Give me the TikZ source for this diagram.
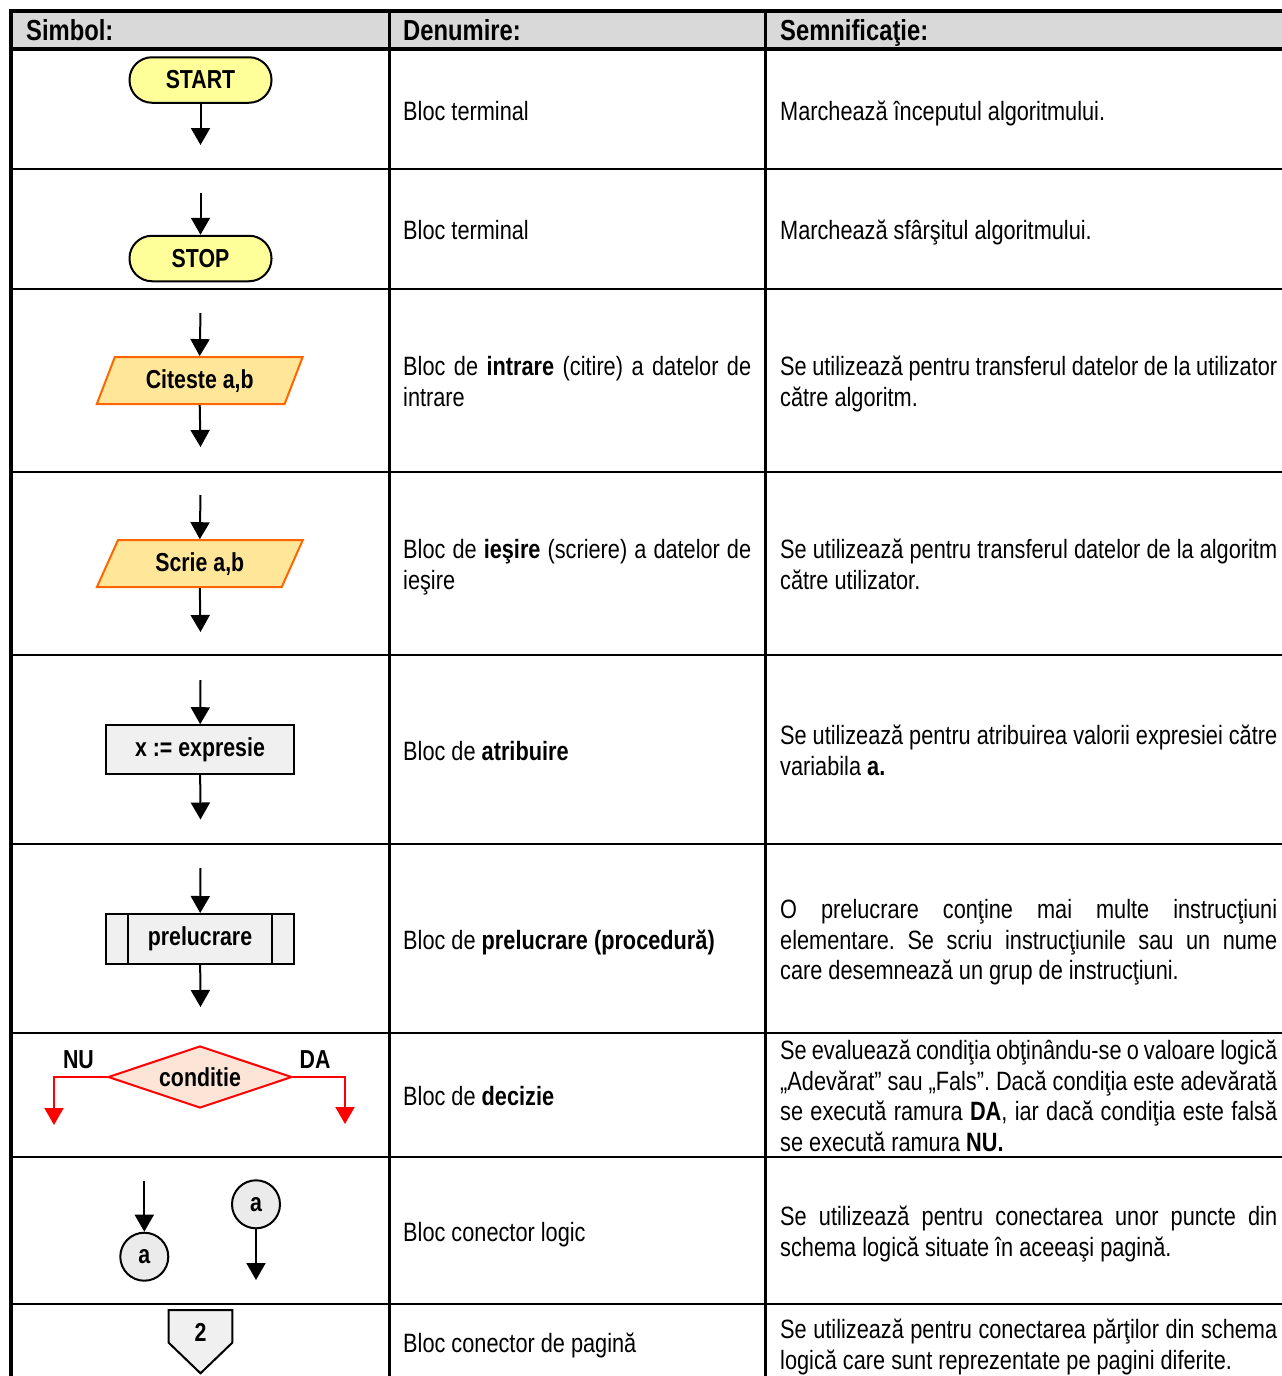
\documentclass[tikz,border=0pt]{standalone}
\usepackage{fontspec}
\setmainfont{Liberation Sans}[FakeStretch=0.82]
\usetikzlibrary{arrows.meta,shapes.geometric}
\frenchspacing

\definecolor{hdrgray}{RGB}{217,217,217}
\definecolor{termyellow}{RGB}{255,255,153}
\definecolor{iofill}{RGB}{255,230,153}
\definecolor{ioborder}{RGB}{255,102,0}
\definecolor{boxgray}{RGB}{240,240,240}
\definecolor{circgray}{RGB}{235,235,235}
\definecolor{decfill}{RGB}{252,228,214}
\definecolor{decred}{RGB}{255,0,0}

% a justified line of a given width
\newcommand\justline[2]{\makebox[#1][s]{#2}}

\begin{document}
\begin{tikzpicture}[x=1pt,y=-1pt,
  txt/.style={inner sep=0pt, anchor=base west, font=\fontsize{26.5}{30.5}\selectfont},
  hdr/.style={inner sep=0pt, anchor=base west, font=\fontsize{29}{32}\selectfont\bfseries},
  lbl/.style={inner sep=0pt, font=\fontsize{26}{28}\selectfont\bfseries},
  flow/.style={line width=2pt, -{Triangle[width=19pt,length=17pt]}},
  shapeline/.style={draw=black, line width=2pt},
  terminal/.style={shapeline, lbl, fill=termyellow, rectangle, rounded corners=22.5pt,
    minimum width=142pt, minimum height=45.5pt},
  iobox/.style={lbl, draw=ioborder, line width=2pt, fill=iofill, trapezium,
    trapezium left angle=63.4, trapezium right angle=116.6, trapezium stretches=true,
    minimum width=206pt, minimum height=47pt},
  procbox/.style={shapeline, lbl, fill=boxgray, rectangle, minimum width=188pt, minimum height=49pt},
  decbox/.style={lbl, draw=decred, line width=2pt, fill=decfill, diamond, aspect=3,
    minimum width=184pt, minimum height=62pt},
  redflow/.style={draw=decred, line width=2pt, -{Triangle[width=19pt,length=17pt]}},
  conn/.style={shapeline, lbl, fill=circgray, circle, minimum size=48pt},
  gridline/.style={line width=2.8pt},
  frameline/.style={line width=4pt}
]
\useasboundingbox (0,0) rectangle (1282,1376);

% ---------- table ----------
\fill[hdrgray] (11,11) rectangle (1282,49);
\draw[frameline] (9.3,11.3) -- (1282,11.3);
\draw[frameline] (9.3,48.7) -- (1282,48.7);
\draw[frameline] (11.3,9.3) -- (11.3,1376);
\draw[gridline] (389.5,11) -- (389.5,1376);
\draw[gridline] (765.5,11) -- (765.5,1376);
\foreach \yy in {169,289,472,655,844,1033,1157,1304}
  \draw[gridline] (11,\yy) -- (1282,\yy);

\node[hdr] (h1) at (26,40) {Simbol:};
\node[hdr] (h2) at (403,40) {Denumire:};
\node[hdr] (h3) at (780,40) {Semnificaţie:};

% ---------- symbols ----------
% terminal blocks
\node[terminal] (start) at (200.5,80) {START};
\coordinate (a1) at (200.5,145);
\draw[flow] (start) -- (a1);

\coordinate (a2) at (200.5,193);
\node[terminal] (stop) at (200.5,258.5) {STOP};
\draw[flow] (a2) -- (stop);

% input / output
\coordinate (a3) at (200.5,313);
\node[iobox] (read) at (199.7,380.6) {Citeste a,b};
\coordinate (a4) at (200.5,447);
\draw[flow] (a3) -- (read.north);
\draw[flow] (read.south) -- (a4);

\coordinate (a5) at (200.5,495);
\node[iobox] (write) at (199.8,563.7) {Scrie a,b};
\coordinate (a6) at (200.5,632);
\draw[flow] (a5) -- (write.north);
\draw[flow] (write.south) -- (a6);

% assignment
\coordinate (a7) at (200.5,680);
\node[procbox] (assign) at (200,749.7) {x := expresie};
\coordinate (a8) at (200.5,819.5);
\draw[flow] (a7) -- (assign);
\draw[flow] (assign) -- (a8);

% procedure
\coordinate (a9) at (200.5,868);
\node[procbox, minimum height=50pt] (proc) at (200,939) {prelucrare};
\draw[line width=2pt] ([xshift=23pt]proc.north west) -- ([xshift=23pt]proc.south west);
\draw[line width=2pt] ([xshift=-23pt]proc.north east) -- ([xshift=-23pt]proc.south east);
\coordinate (a10) at (200.5,1007);
\draw[flow] (a9) -- (proc);
\draw[flow] (proc) -- (a10);

% decision
\node[decbox] (dec) at (200,1077) {conditie};
\coordinate (nuend) at (54,1125);
\coordinate (daend) at (345,1124);
\draw[redflow] (dec.west) -| (nuend);
\draw[redflow] (dec.east) -| (daend);
\node[lbl] (nu) at (78.5,1059.5) {NU};
\node[lbl] (da) at (315,1059.5) {DA};

% logical connectors
\coordinate (a11) at (144.3,1181);
\node[conn] (ca) at (144.3,1256.7) {a};
\draw[flow] (a11) -- (ca);
\node[conn] (cb) at (256,1204.3) {a};
\coordinate (a12) at (256,1280);
\draw[flow] (cb) -- (a12);

% page connector
\draw[shapeline, fill=boxgray, line join=miter] (168.7,1310) -- (232.3,1310) -- (232.3,1342.7)
  -- (200.5,1373.3) -- (168.7,1342.7) -- cycle;
\node[lbl] (pg) at (200.5,1332.5) {2};

% ---------- names ----------
\node[txt] (n1) at (403,120) {Bloc terminal};
\node[txt] (n2) at (403,239.5) {Bloc terminal};
\node[txt] (n3a) at (403,375.75) {\justline{348pt}{Bloc de \textbf{intrare} (citire) a datelor de}};
\node[txt] (n3b) at (403,406.25) {intrare};
\node[txt] (n4a) at (403,558.75) {\justline{348pt}{Bloc de \textbf{ieşire} (scriere) a datelor de}};
\node[txt] (n4b) at (403,589.25) {ieşire};
\node[txt] (n5) at (403,760) {Bloc de \textbf{atribuire}};
\node[txt] (n6) at (403,949) {Bloc de \textbf{prelucrare (procedură)}};
\node[txt] (n7) at (403,1105.5) {Bloc de \textbf{decizie}};
\node[txt] (n8) at (403,1241) {Bloc conector logic};
\node[txt] (n9) at (403,1352.5) {Bloc conector de pagină};

% ---------- meanings ----------
\node[txt] (m1) at (780,120) {Marchează începutul algoritmului.};
\node[txt] (m2) at (780,239.5) {Marchează sfârşitul algoritmului.};
\node[txt] (m3a) at (780,375.75) {\justline{497pt}{Se utilizează pentru transferul datelor de la utilizator}};
\node[txt] (m3b) at (780,406.25) {către algoritm.};
\node[txt] (m4a) at (780,558.75) {\justline{497pt}{Se utilizează pentru transferul datelor de la algoritm}};
\node[txt] (m4b) at (780,589.25) {către utilizator.};
\node[txt] (m5a) at (780,744.75) {\justline{497pt}{Se utilizează pentru atribuirea valorii expresiei către}};
\node[txt] (m5b) at (780,775.25) {variabila \textbf{a.}};
\node[txt] (m6a) at (780,918.5) {\justline{497pt}{O prelucrare conţine mai multe instrucţiuni}};
\node[txt] (m6b) at (780,949) {\justline{497pt}{elementare. Se scriu instrucţiunile sau un nume}};
\node[txt] (m6c) at (780,979.5) {care desemnează un grup de instrucţiuni.};
\node[txt] (m7a) at (780,1059.75) {\justline{497pt}{Se evaluează condiţia obţinându-se o valoare logică}};
\node[txt] (m7b) at (780,1090.25) {\justline{497pt}{„Adevărat” sau „Fals”. Dacă condiţia este adevărată}};
\node[txt] (m7c) at (780,1120.75) {\justline{497pt}{se execută ramura \textbf{DA}, iar dacă condiţia este falsă}};
\node[txt] (m7d) at (780,1151.25) {se execută ramura \textbf{NU.}};
\node[txt] (m8a) at (780,1225.75) {\justline{497pt}{Se utilizează pentru conectarea unor puncte din}};
\node[txt] (m8b) at (780,1256.25) {schema logică situate în aceeaşi pagină.};
\node[txt] (m9a) at (780,1338.5) {\justline{497pt}{Se utilizează pentru conectarea părţilor din schema}};
\node[txt] (m9b) at (780,1369) {logică care sunt reprezentate pe pagini diferite.};
\end{tikzpicture}
\end{document}
